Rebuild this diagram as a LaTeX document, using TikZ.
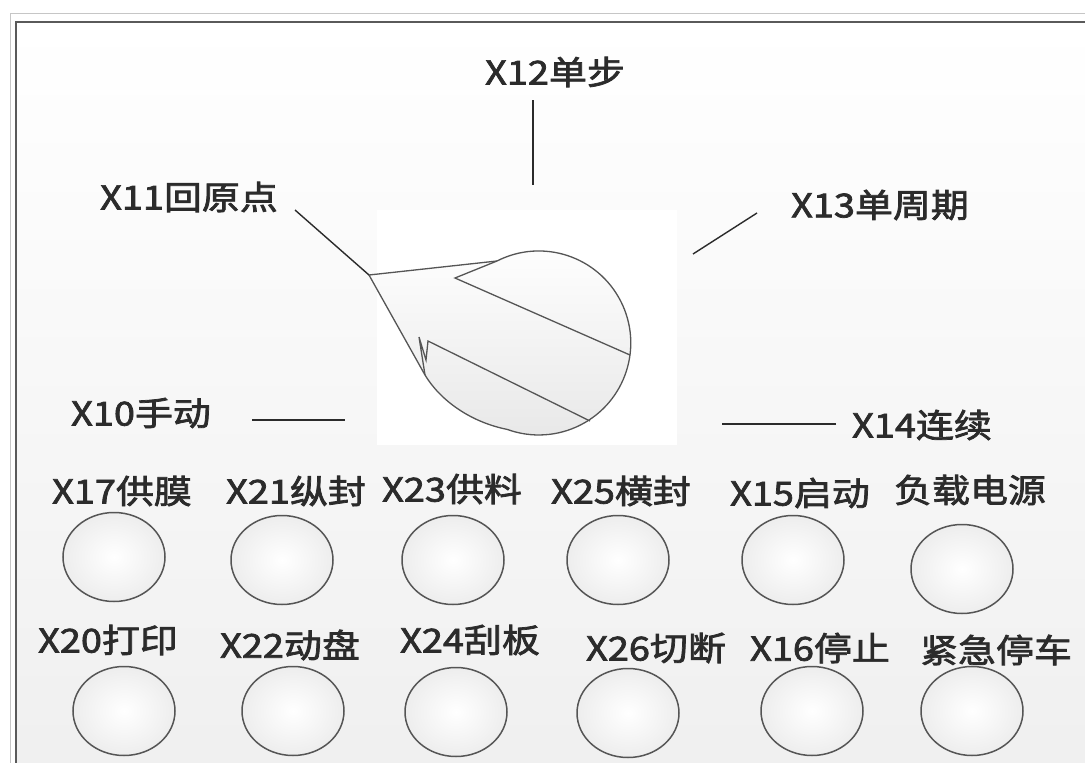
\documentclass[tikz,border=0pt]{standalone}
\usepackage{fontspec}
\usetikzlibrary{shapes.geometric}
\newfontfamily\cjk[FakeStretch=1.15,FakeBold=2.2]{Noto Sans CJK SC}
\definecolor{ink}{HTML}{2B2B2B}
\definecolor{rim}{HTML}{555555}
\definecolor{frame}{HTML}{5A5A5A}
\tikzset{pn/.style={x=1pt,y=-1pt,line width=1.3pt},
  lbl/.style={font=\cjk\fontsize{33}{35}\selectfont,text=ink,inner sep=0pt},
  btn/.style={ellipse,draw=rim,line width=1.5pt,inner color=white,outer color=gray!14,
    minimum width=102pt,minimum height=89pt,inner sep=0pt},
  lead/.style={draw=ink,line width=1.4pt}}

\begin{document}
\begin{tikzpicture}[pn]
  \useasboundingbox (0,0) rectangle (1085,763);
  % panel and its frame
  \shade[top color=white,bottom color=gray!12] (16,22) rectangle (1085,763);
  \draw[gray!45,line width=1pt] (10,763)--(10,13)--(1085,13);
  \draw[frame,line width=2.4pt] (16,763)--(16,22)--(1085,22);
  % selector knob
  \fill[white] (377,210) rectangle (677,445);
  \shade[top color=white,bottom color=gray!18,draw=rim,line width=1.3pt]
    (369,275) -- (497,261) arc[start angle=-117,end angle=110,radius=92]
    .. controls (470,422) and (440,400) .. (425,375) -- cycle;
  \draw[rim,line width=1.3pt] (497,261) -- (455,278) -- (630,355);
  \draw[rim,line width=1.3pt] (425,375) -- (419,337) -- (426,360) -- (428,341) -- (590,421);
  % mode labels round the knob
  \node[lbl] (m12) at (555,72) {X12单步};
  \node[lbl] (m11) at (189,197) {X11回原点};
  \node[lbl] (m13) at (880,205) {X13单周期};
  \node[lbl] (m10) at (141,413) {X10手动};
  \node[lbl] (m14) at (922,425) {X14连续};
  \coordinate (p12a) at (533,100); \coordinate (p12b) at (533,185);
  \coordinate (p11a) at (295,210); \coordinate (p11b) at (369,275);
  \coordinate (p13a) at (757,213); \coordinate (p13b) at (693,254);
  \coordinate (p10a) at (252,420); \coordinate (p10b) at (345,420);
  \coordinate (p14a) at (836,424); \coordinate (p14b) at (722,424);
  \foreach \k in {12,11,13,10,14}{\draw[lead] (p\k a)--(p\k b);}
  % push buttons
  \foreach \n/\x/\y/\lx/\ly/\t in {
      17/114/557/122/491/{X17供膜}, 21/282/560/296/491/{X21纵封},
      23/453/560/452/489/{X23供料}, 25/618/560/621/491/{X25横封},
      15/793/560/800/493/{X15启动}, pw/962/569/970/490/{负载电源},
      20/124/711/108/640/{X20打印}, 22/293/711/290/645/{X22动盘},
      24/456/712/470/640/{X24刮板}, 26/628/713/656/648/{X26切断},
      16/812/711/820/648/{X16停止}, es/972/711/996/650/{紧急停车}}{
    \node[btn] (b\n) at (\x,\y) {};
    \node[lbl] (l\n) at (\lx,\ly) {\t};
  }
\end{tikzpicture}
\end{document}
